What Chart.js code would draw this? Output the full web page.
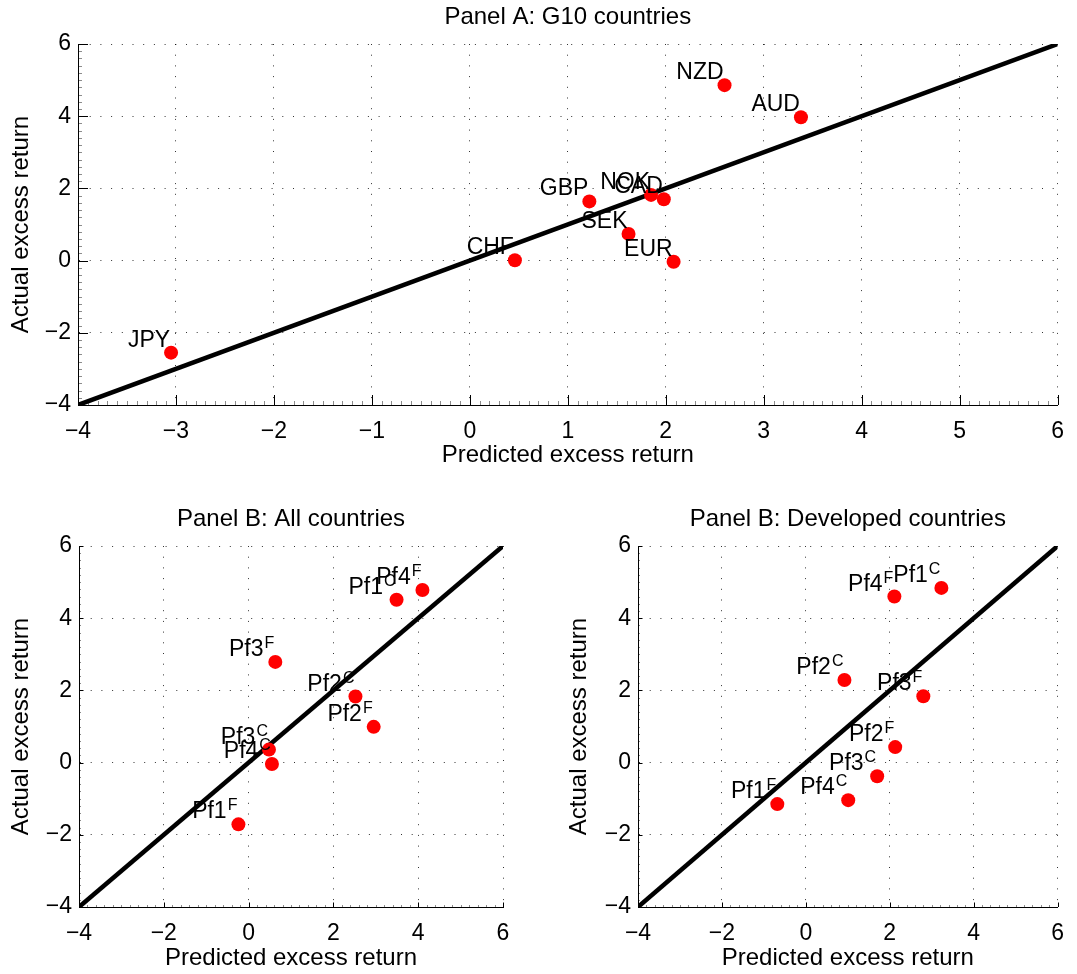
<!DOCTYPE html>
<html>
<head>
<meta charset="utf-8">
<script src="https://cdn.jsdelivr.net/npm/chart.js@4.4.1/dist/chart.umd.min.js"></script>
<style>
  html, body { margin: 0; padding: 0; background: #fff; }
  #wrap { position: relative; width: 1077px; height: 974px; }
  .panel { position: absolute; }
</style>
</head>
<body>
<div id="wrap">
  <div class="panel" style="left:0;top:0;width:1077px;height:487px"><canvas id="chartG10"></canvas></div>
  <div class="panel" style="left:0;top:487px;width:550px;height:487px"><canvas id="chartAll"></canvas></div>
  <div class="panel" style="left:550px;top:487px;width:527px;height:487px"><canvas id="chartDev"></canvas></div>
</div>
<script>
// Panel A: G10 currencies
var g10Names     = ['JPY', 'CHF', 'GBP', 'NOK', 'CAD', 'SEK', 'EUR', 'NZD', 'AUD'];
var g10Predicted = [-3.05, 0.46, 1.22, 1.85, 1.98, 1.62, 2.08, 2.60, 3.38];
var g10Actual    = [-2.55, 0.01, 1.64, 1.82, 1.70, 0.74, -0.03, 4.86, 3.97];

// Panel B: portfolios, superscript C / F
var pfNames = ['Pf1', 'Pf2', 'Pf3', 'Pf4', 'Pf1', 'Pf2', 'Pf3', 'Pf4'];
var pfSups  = ['C', 'C', 'C', 'C', 'F', 'F', 'F', 'F'];
var allPredicted = [3.49, 2.52, 0.48, 0.55, -0.24, 2.95, 0.63, 4.10];
var allActual    = [4.51, 1.83, 0.36, -0.04, -1.71, 0.99, 2.79, 4.78];
var devPredicted = [3.23, 0.92, 1.70, 1.01, -0.68, 2.13, 2.80, 2.11];
var devActual    = [4.84, 2.29, -0.38, -1.04, -1.15, 0.43, 1.84, 4.60];

// axis range and 45 degree line
var axisMin = -4, axisMax = 6;
var fitLine = [axisMin, axisMax];

var fontFamily = "'Liberation Sans', Arial, Helvetica, sans-serif";
Chart.defaults.font.family = fontFamily;
Chart.defaults.color = '#000';

function fmtTick(v) {
    return v < 0 ? '\u2212' + Math.abs(v) : String(v);
}

// point labels with superscripts, drawn to the upper left of each marker
var pointLabels = {
    id: 'pointLabels',
    afterDatasetsDraw: function(chart) {
        var ctx = chart.ctx;
        chart.data.datasets.forEach(function(ds, di) {
            if (!ds.names) return;
            var meta = chart.getDatasetMeta(di);
            meta.data.forEach(function(pt, i) {
                var sup = ds.sups ? ds.sups[i] : '';
                var supW = 0;
                ctx.save();
                ctx.fillStyle = '#000';
                ctx.textBaseline = 'alphabetic';
                ctx.textAlign = 'right';
                if (sup) {
                    ctx.font = '16px ' + fontFamily;
                    supW = ctx.measureText(sup).width + 1;
                }
                var right = pt.x - 1, base = pt.y - 6;
                ctx.font = '23px ' + fontFamily;
                ctx.fillText(ds.names[i], right - supW, base);
                if (sup) {
                    ctx.font = '16px ' + fontFamily;
                    ctx.fillText(sup, right, base - 8);
                }
                ctx.restore();
            });
        });
    }
};

// panel title centred over the plot area
var panelTitle = {
    id: 'panelTitle',
    afterDraw: function(chart, args, opts) {
        var ctx = chart.ctx, area = chart.chartArea;
        ctx.save();
        ctx.font = '24px ' + fontFamily;
        ctx.fillStyle = '#000';
        ctx.textAlign = 'center';
        ctx.textBaseline = 'middle';
        ctx.fillText(opts.text, (area.left + area.right) / 2, opts.y);
        ctx.restore();
    }
};

// inward major/minor tick marks (matlab style)
var inTicks = {
    id: 'inTicks',
    afterDraw: function(chart, args, opts) {
        var ctx = chart.ctx, xs = chart.scales.x, ys = chart.scales.y;
        var area = chart.chartArea;
        function isMajor(v, step) {
            return Math.abs(v / step - Math.round(v / step)) < 1e-6;
        }
        ctx.save();
        ctx.lineWidth = 1;
        var n, v, p, len;
        n = Math.round((axisMax - axisMin) / opts.xMinor);
        for (var i = 0; i <= n; i++) {
            v = axisMin + i * opts.xMinor;
            p = Math.round(xs.getPixelForValue(v)) + 0.5;
            len = isMajor(v, opts.xStep) ? opts.major : opts.minor;
            ctx.strokeStyle = isMajor(v, opts.xStep) ? '#000' : 'rgba(0,0,0,0.45)';
            ctx.beginPath();
            ctx.moveTo(p, area.bottom);
            ctx.lineTo(p, area.bottom - len);
            ctx.stroke();
        }
        n = Math.round((axisMax - axisMin) / opts.yMinor);
        for (var j = 0; j <= n; j++) {
            v = axisMin + j * opts.yMinor;
            p = Math.round(ys.getPixelForValue(v)) + 0.5;
            len = isMajor(v, 2) ? opts.major : opts.minor;
            ctx.strokeStyle = isMajor(v, 2) ? '#000' : 'rgba(0,0,0,0.45)';
            ctx.beginPath();
            ctx.moveTo(area.left, p);
            ctx.lineTo(area.left + len, p);
            ctx.stroke();
        }
        ctx.restore();
    }
};

function makeChart(id, cfg) {
    var points = cfg.xs.map(function(x, i) { return {x: x, y: cfg.ys[i]}; });
    var line = fitLine.map(function(v) { return {x: v, y: v}; });
    return new Chart(document.getElementById(id), {
        type: 'scatter',
        data: {
            datasets: [
                {
                    data: points,
                    names: cfg.names,
                    sups: cfg.sups,
                    backgroundColor: '#ff0000',
                    borderWidth: 0,
                    pointRadius: 7,
                    pointHoverRadius: 7,
                    order: 0
                },
                {
                    data: line,
                    showLine: true,
                    borderColor: '#000',
                    borderWidth: 4.5,
                    pointRadius: 0,
                    order: 1
                }
            ]
        },
        options: {
            responsive: true,
            maintainAspectRatio: false,
            animation: false,
            layout: { padding: { left: 0, top: cfg.padTop, right: cfg.padRight, bottom: 0 } },
            scales: {
                x: {
                    type: 'linear',
                    min: axisMin,
                    max: axisMax,
                    ticks: { stepSize: cfg.xStep, padding: 13, font: { size: 23 }, color: '#000', callback: fmtTick, maxRotation: 0, autoSkip: false },
                    grid: { color: 'rgba(0,0,0,0.8)', lineWidth: 1, drawTicks: false },
                    border: { display: true, color: '#000', width: 1, dash: [1, 9.7] },
                    title: { display: true, text: 'Predicted excess return', font: { size: 24 }, color: '#000', padding: { top: 0, bottom: cfg.xTitlePad } },
                    afterFit: function(s) { s.height = cfg.xH; }
                },
                y: {
                    type: 'linear',
                    min: axisMin,
                    max: axisMax,
                    ticks: { stepSize: 2, padding: 7, font: { size: 23 }, color: '#000', callback: fmtTick, autoSkip: false },
                    grid: { color: 'rgba(0,0,0,0.8)', lineWidth: 1, drawTicks: false },
                    border: { display: true, color: '#000', width: 1, dash: [1, 9.7] },
                    title: { display: true, text: 'Actual excess return', font: { size: 24 }, color: '#000', padding: { top: cfg.yTitlePad, bottom: 0 } },
                    afterFit: function(s) { s.width = cfg.yW; }
                }
            },
            plugins: {
                legend: { display: false },
                tooltip: { enabled: false },
                panelTitle: { text: cfg.title, y: cfg.titleY },
                inTicks: { major: cfg.major, minor: cfg.minor, xMinor: cfg.xMinor, yMinor: 0.2, xStep: cfg.xStep }
            }
        },
        plugins: [pointLabels, panelTitle, inTicks]
    });
}

makeChart('chartG10', {
    xs: g10Predicted, ys: g10Actual, names: g10Names, sups: null,
    title: 'Panel A: G10 countries', titleY: 17,
    padTop: 44, padRight: 13, yW: 78, xH: 82,
    xTitlePad: 17.6, yTitlePad: 6.6,
    xStep: 1, xMinor: 0.1, major: 10, minor: 4
});

makeChart('chartAll', {
    xs: allPredicted, ys: allActual, names: pfNames, sups: pfSups,
    title: 'Panel B: All countries', titleY: 32,
    padTop: 59, padRight: 47, yW: 79, xH: 67,
    xTitlePad: 1.6, yTitlePad: 6.6,
    xStep: 2, xMinor: 0.2, major: 4.5, minor: 2
});

makeChart('chartDev', {
    xs: devPredicted, ys: devActual, names: pfNames, sups: pfSups,
    title: 'Panel B: Developed countries', titleY: 32,
    padTop: 59, padRight: 13, yW: 88, xH: 67,
    xTitlePad: 1.6, yTitlePad: 14.6,
    xStep: 2, xMinor: 0.2, major: 4.5, minor: 2
});
</script>
</body>
</html>
